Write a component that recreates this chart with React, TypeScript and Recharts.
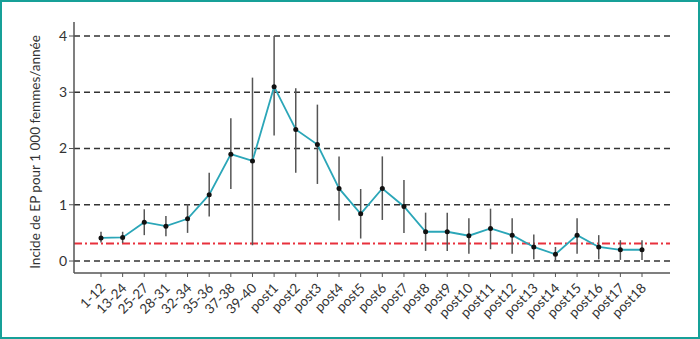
import { LineChart, Line, XAxis, YAxis, ReferenceLine, ErrorBar } from 'recharts';

const categories = [
  '1-12', '13-24', '25-27', '28-31', '32-34', '35-36', '37-38', '39-40',
  'post1', 'post2', 'post3', 'post4', 'post5', 'post6', 'post7', 'post8', 'post9',
  'post10', 'post11', 'post12', 'post13', 'post14', 'post15', 'post16', 'post17', 'post18',
];
const values = [
  0.41, 0.42, 0.69, 0.62, 0.75, 1.18, 1.9, 1.78,
  3.1, 2.34, 2.07, 1.29, 0.84, 1.29, 0.97, 0.52, 0.52,
  0.45, 0.58, 0.46, 0.25, 0.12, 0.46, 0.25, 0.2, 0.2,
];
const lower = [
  0.33, 0.32, 0.46, 0.44, 0.5, 0.79, 1.28, 0.28,
  2.23, 1.57, 1.37, 0.72, 0.4, 0.73, 0.5, 0.18, 0.18,
  0.13, 0.21, 0.13, 0.03, 0.0, 0.13, 0.03, 0.02, 0.02,
];
const upper = [
  0.52, 0.52, 0.92, 0.8, 1.01, 1.57, 2.54, 3.26,
  4.0, 3.07, 2.78, 1.86, 1.28, 1.86, 1.44, 0.86, 0.86,
  0.76, 0.93, 0.76, 0.47, 0.25, 0.76, 0.46, 0.37, 0.37,
];
const yTicks = [0, 1, 2, 3, 4];
const baseline = 0.31;

const data = categories.map((c, i) => ({
  cat: c,
  value: values[i],
  err: [values[i] - lower[i], upper[i] - values[i]],
}));

const FONT = 'Lato, "Open Sans", sans-serif';

function XTick({ x, y, payload }: any) {
  const ax = x + 5;
  const ay = y + 10;
  return (
    <text
      x={ax}
      y={ay}
      textAnchor="end"
      transform={`rotate(-45, ${ax}, ${ay})`}
      fontSize={13.5}
      fontFamily={FONT}
      fill="#333"
    >
      {payload.value}
    </text>
  );
}

function YLabel() {
  return (
    <text
      x={37}
      y={152}
      textAnchor="middle"
      dominantBaseline="middle"
      transform="rotate(-90, 37, 152)"
      fontSize={13.5}
      fontFamily={FONT}
      fill="#333"
    >
      Incide de EP pour 1 000 femmes/année
    </text>
  );
}

export default function App() {
  return (
    <div style={{ position: 'relative', width: 700, height: 339, background: '#fff' }}>
      <style>{'body{margin:0}'}</style>
      <LineChart width={700} height={339} data={data} margin={{ top: 22, right: 30, bottom: 6, left: 30 }}>
        <XAxis
          dataKey="cat"
          interval={0}
          padding={{ left: 27, right: 28 }}
          height={60}
          tick={<XTick />}
          tickSize={4}
          axisLine={{ stroke: '#555', strokeWidth: 1.5 }}
          tickLine={{ stroke: '#555' }}
        />
        <YAxis
          yAxisId="l"
          domain={[-0.213, 4.249]}
          ticks={yTicks}
          allowDataOverflow
          width={44}
          tickSize={5}
          tick={{ fontSize: 14, fontFamily: FONT, fill: '#333' }}
          axisLine={{ stroke: '#555', strokeWidth: 1.5 }}
          tickLine={{ stroke: '#555' }}
          label={<YLabel />}
        />
        <YAxis
          yAxisId="r"
          orientation="right"
          width={0}
          tick={false}
          tickLine={false}
          axisLine={{ stroke: '#555', strokeWidth: 1.5 }}
        />
        {yTicks.map(t => (
          <ReferenceLine key={t} yAxisId="l" y={t} stroke="#333" strokeDasharray="6 4" strokeWidth={1.3} />
        ))}
        <ReferenceLine yAxisId="l" y={baseline} stroke="#e8313c" strokeDasharray="8 3 2 3" strokeWidth={2} />
        <Line
          yAxisId="l"
          dataKey="value"
          stroke="#2ba6b8"
          strokeWidth={1.8}
          isAnimationActive={false}
          dot={{ r: 2.5, fill: '#111', stroke: '#111', strokeWidth: 0 }}
          activeDot={false}
        >
          <ErrorBar dataKey="err" width={0} stroke="#555" strokeWidth={1.5} direction="y" />
        </Line>
      </LineChart>
      <div
        style={{
          position: 'absolute',
          inset: 0,
          border: '2px solid #17a098',
          pointerEvents: 'none',
        }}
      />
    </div>
  );
}
